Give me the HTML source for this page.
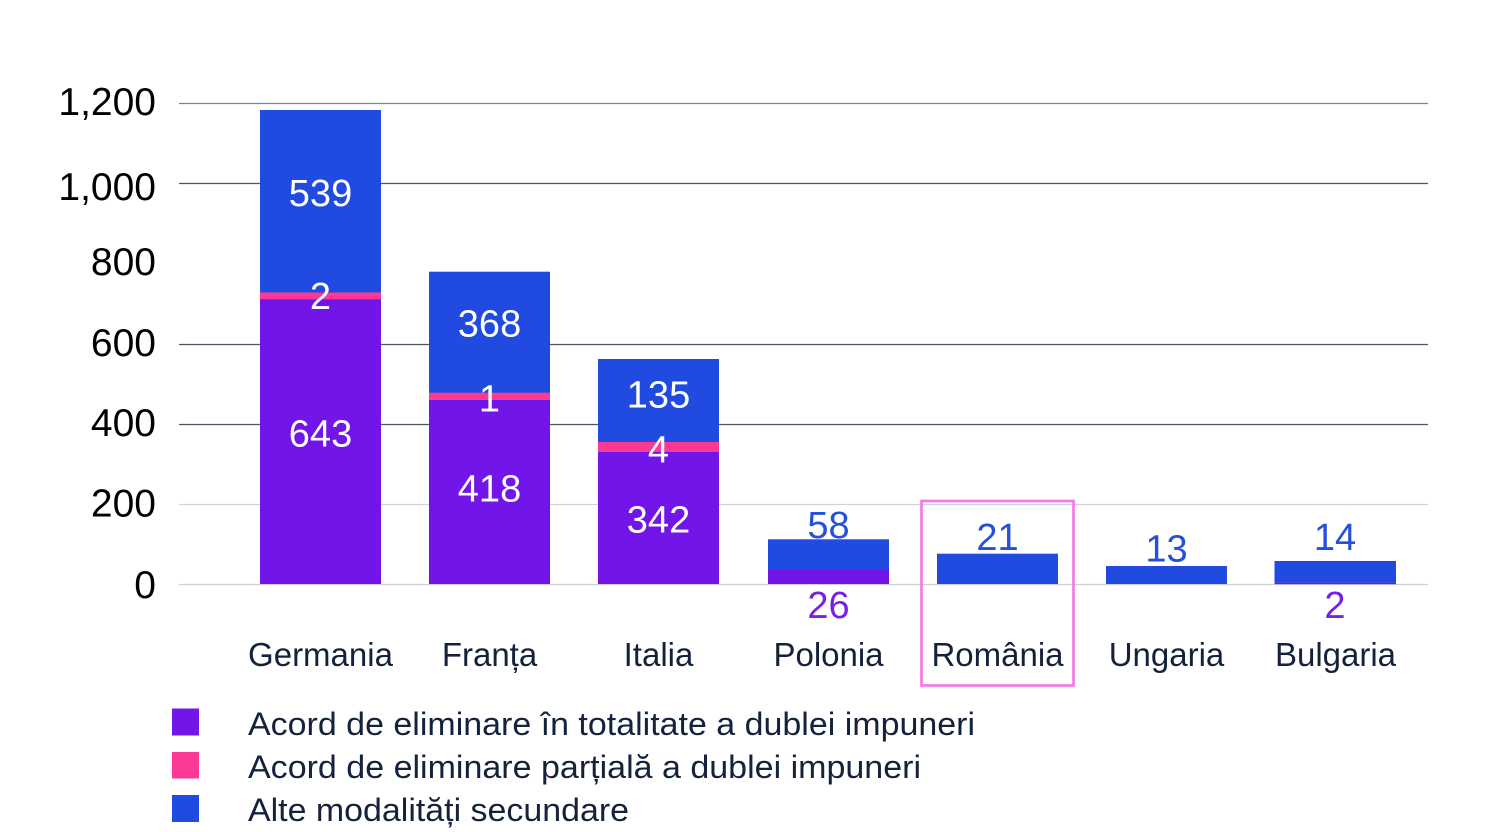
<!DOCTYPE html>
<html>
<head>
<meta charset="utf-8">
<style>
  html,body{margin:0;padding:0;background:#fff;}
  body{width:1497px;height:832px;overflow:hidden;}
  svg{display:block;}
  text{font-family:"Liberation Sans", Arial, sans-serif;}
</style>
</head>
<body>
<svg width="1497" height="832" viewBox="0 0 1497 832" xmlns="http://www.w3.org/2000/svg">
  <rect width="1497" height="832" fill="#ffffff"/>

  <!-- gridlines -->
  <line x1="179" y1="103.5" x2="1428" y2="103.5" stroke="#7a838e" stroke-width="1.2"/>
  <line x1="179" y1="183.5" x2="1428" y2="183.5" stroke="#4a5462" stroke-width="1.2"/>
  <line x1="179" y1="344.5" x2="1428" y2="344.5" stroke="#4a5462" stroke-width="1.2"/>
  <line x1="179" y1="424.5" x2="1428" y2="424.5" stroke="#4a5462" stroke-width="1.2"/>
  <line x1="179" y1="504.5" x2="1428" y2="504.5" stroke="#d2d3da" stroke-width="1.2"/>
  <line x1="179" y1="584.5" x2="1428" y2="584.5" stroke="#cfd0d8" stroke-width="1.2"/>

  <!-- y tick labels -->
  <g font-size="39" fill="#000" text-anchor="end">
    <text x="156" y="115">1,200</text>
    <text x="156" y="200">1,000</text>
    <text x="156" y="275">800</text>
    <text x="156" y="356">600</text>
    <text x="156" y="436">400</text>
    <text x="156" y="516.5">200</text>
    <text x="156" y="598">0</text>
  </g>

  <!-- bars -->
  <rect x="260" y="110" width="121" height="183" fill="#204ae0"/>
  <rect x="260" y="292.5" width="121" height="7" fill="#fc3a96"/>
  <rect x="260" y="299.3" width="121" height="284.7" fill="#7115e8"/>

  <rect x="429" y="271.7" width="121" height="121.3" fill="#204ae0"/>
  <rect x="429" y="392.7" width="121" height="7.5" fill="#fc3a96"/>
  <rect x="429" y="400" width="121" height="184" fill="#7115e8"/>

  <rect x="598" y="359" width="121" height="83.3" fill="#204ae0"/>
  <rect x="598" y="442" width="121" height="10.2" fill="#fc3a96"/>
  <rect x="598" y="452" width="121" height="132" fill="#7115e8"/>

  <rect x="768" y="539.3" width="121" height="30.2" fill="#204ae0"/>
  <rect x="768" y="569.3" width="121" height="14.7" fill="#7115e8"/>

  <rect x="937" y="553.7" width="121" height="30.3" fill="#204ae0"/>

  <rect x="1106" y="566" width="121" height="18" fill="#204ae0"/>

  <rect x="1274.5" y="561" width="121.5" height="21.8" fill="#204ae0"/>
  <rect x="1274.5" y="582.7" width="121.5" height="1.5" fill="#7115e8"/>

  <!-- data labels -->
  <g font-size="38" text-anchor="middle" fill="#ffffff">
    <text x="320.5" y="206">539</text>
    <text x="320.5" y="309">2</text>
    <text x="320.5" y="446.7">643</text>
    <text x="489.5" y="336.7">368</text>
    <text x="489.5" y="411.7">1</text>
    <text x="489.5" y="501.5">418</text>
    <text x="658.5" y="407.7">135</text>
    <text x="658.5" y="462.7">4</text>
    <text x="658.5" y="532.7">342</text>
  </g>
  <g font-size="38" text-anchor="middle" fill="#2450dc">
    <text x="828.5" y="538">58</text>
    <text x="997.5" y="550">21</text>
    <text x="1166.5" y="561.7">13</text>
    <text x="1335" y="550">14</text>
  </g>
  <g font-size="38" text-anchor="middle" fill="#7a1fe4">
    <text x="828.5" y="618">26</text>
    <text x="1335" y="618">2</text>
  </g>

  <!-- category labels -->
  <g font-size="33" text-anchor="middle" fill="#13223a">
    <text x="320.5" y="666">Germania</text>
    <text x="489.5" y="666">Franța</text>
    <text x="658.5" y="666">Italia</text>
    <text x="828.5" y="666">Polonia</text>
    <text x="997.5" y="666">România</text>
    <text x="1166.5" y="666">Ungaria</text>
    <text x="1335.5" y="666">Bulgaria</text>
  </g>

  <!-- highlight box -->
  <rect x="921.5" y="501" width="152" height="184.5" fill="none" stroke="#f57ae6" stroke-width="2.7"/>

  <!-- legend -->
  <rect x="172" y="708.5" width="27" height="27" fill="#7115e8"/>
  <rect x="172" y="752" width="27" height="26.5" fill="#fc3a96"/>
  <rect x="172" y="795" width="27" height="27" fill="#204ae0"/>
  <g font-size="32" fill="#14223b">
    <text x="248" y="735" textLength="727" lengthAdjust="spacingAndGlyphs">Acord de eliminare în totalitate a dublei impuneri</text>
    <text x="248" y="778" textLength="673" lengthAdjust="spacingAndGlyphs">Acord de eliminare parțială a dublei impuneri</text>
    <text x="248" y="821" textLength="381" lengthAdjust="spacingAndGlyphs">Alte modalități secundare</text>
  </g>
</svg>
</body>
</html>
